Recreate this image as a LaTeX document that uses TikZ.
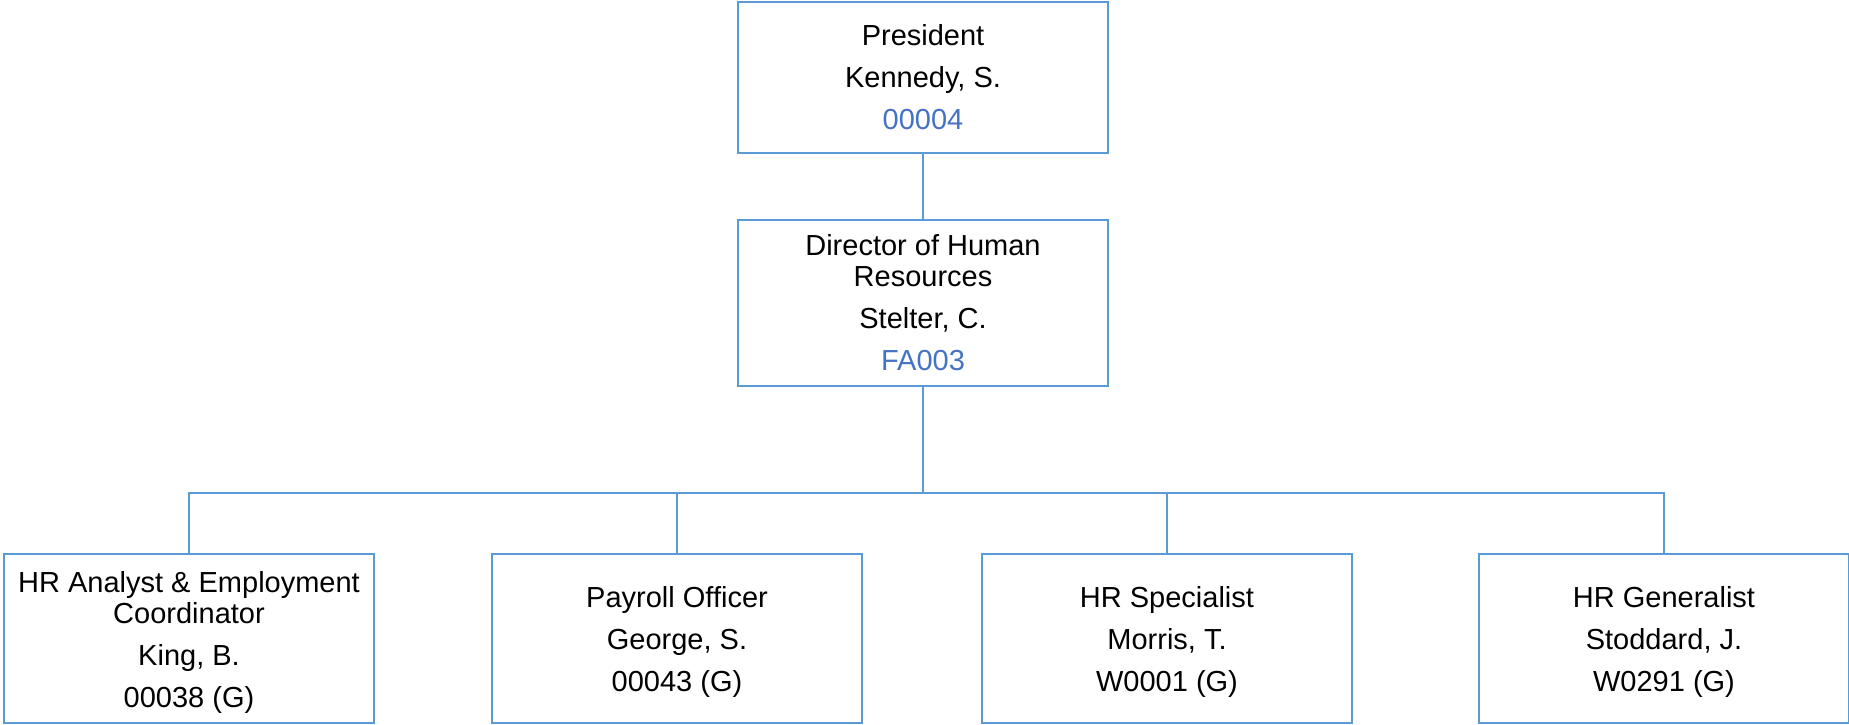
\documentclass[tikz,border=0pt]{standalone}
\usepackage{fontspec}
\setmainfont{Liberation Sans}
\definecolor{boxblue}{HTML}{5B9BD5}
\definecolor{idblue}{HTML}{4472C4}
\newcommand{\toplift}{\rule{0pt}{28pt}}
\begin{document}
\begin{tikzpicture}[x=1pt,y=-1pt,
  card/.style={draw=boxblue, line width=2.2pt, minimum width=370pt, align=center,
    inner sep=0pt, font=\fontsize{29}{31}\selectfont},
  lower/.style={card, minimum height=169pt},
  link/.style={draw=boxblue, line width=2.2pt}]
\useasboundingbox (0,0) rectangle (1849,725);
\node[card, minimum height=151pt] (pres) at (923,77.5)
  {President\\[11pt]Kennedy, S.\\[11pt]\textcolor{idblue}{00004}};
\node[card, minimum height=166pt] (dir) at (923,303)
  {Director of Human\\Resources\\[11pt]Stelter, C.\\[11pt]\textcolor{idblue}{FA003}};
\node[lower] (b1) at (189,638.5)
  {\toplift HR Analyst \& Employment\\Coordinator\\[11pt]King, B.\\[11pt]00038 (G)};
\node[lower] (b2) at (677,638.5)
  {\toplift Payroll Officer\\[11pt]George, S.\\[11pt]00043 (G)};
\node[lower] (b3) at (1167,638.5)
  {\toplift HR Specialist\\[11pt]Morris, T.\\[11pt]W0001 (G)};
\node[lower] (b4) at (1664,638.5)
  {\toplift HR Generalist\\[11pt]Stoddard, J.\\[11pt]W0291 (G)};
\coordinate (bus) at (923,493);
\draw[link] (pres.south) -- (dir.north);
\draw[link] (dir.south) -- (bus);
\draw[link] (bus) -| (b1.north);
\draw[link] (bus) -| (b2.north);
\draw[link] (bus) -| (b3.north);
\draw[link] (bus) -| (b4.north);
\end{tikzpicture}
\end{document}
